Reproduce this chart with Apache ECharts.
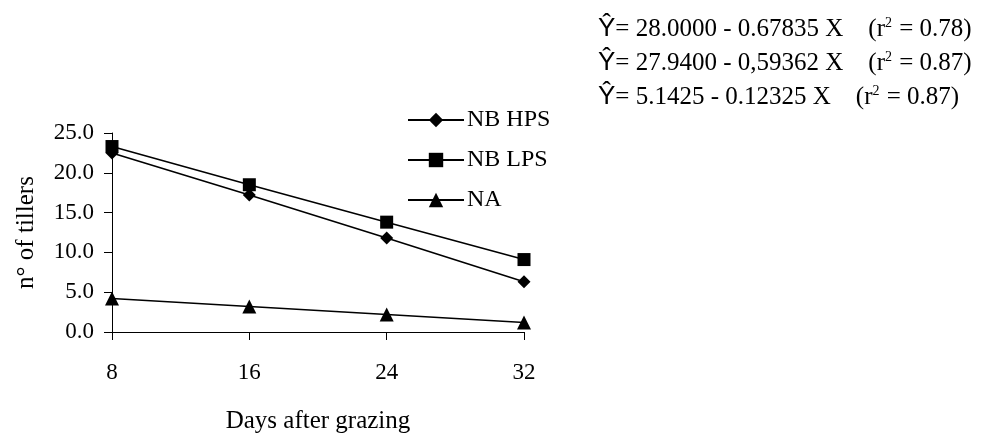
<!DOCTYPE html>
<html>
<head>
<meta charset="utf-8">
<script src="https://cdn.jsdelivr.net/npm/echarts@6/dist/echarts.min.js"></script>
<style>html,body{margin:0;padding:0;background:#fff}#c{width:1004px;height:437px}</style>
</head>
<body>
<div id="c"></div>
<script>
const days = [8, 16, 24, 32];
const nbHPS = [22.5, 17.2, 11.8, 6.3];
const nbLPS = [23.3, 18.5, 13.8, 9.1];
const na = [4.2, 3.2, 2.2, 1.2];
const seriesNames = ['NB HPS', 'NB LPS', 'NA'];
const equations = [
  ['28.0000 - 0.67835 X', '0.78'],
  ['27.9400 - 0,59362 X', '0.87'],
  ['5.1425 - 0.12325 X', '0.87']
];

const font = '"Liberation Serif", "Times New Roman", serif';
const sans = '"Liberation Sans", Arial, sans-serif';
const chart = echarts.init(document.getElementById('c'));

function pts(vals){ return days.map((d,i)=>[d, vals[i]]); }

const symbols = ['diamond', 'rect', 'triangle'];
const sizes = [13, 13, 14];
const dataSets = [nbHPS, nbLPS, na];

chart.setOption({
  backgroundColor: '#fff',
  animation: false,
  textStyle: { fontFamily: font, color: '#000' },
  grid: { left: 112, top: 133, right: 480, bottom: 105 },
  legend: {
    orient: 'vertical',
    left: 407, top: 108, padding: 0,
    itemWidth: 56, itemHeight: 18, itemGap: 16,
    textStyle: { fontFamily: font, fontSize: 24, color: '#000', padding: [0,0,0,-2] },
    data: seriesNames
  },
  xAxis: {
    type: 'value', min: 8, max: 32, interval: 8,
    name: 'Days after grazing', nameLocation: 'middle', nameGap: 77,
    nameTextStyle: { fontFamily: font, fontSize: 25, color: '#000' },
    axisLine: { lineStyle: { color: '#000', width: 1 } },
    axisTick: { show: true, length: 8, lineStyle: { color: '#000' } },
    axisLabel: { fontFamily: font, fontSize: 23, color: '#000', margin: 29 },
    splitLine: { show: false }
  },
  yAxis: {
    type: 'value', min: 0, max: 25, interval: 5,
    name: 'n° of tillers', nameLocation: 'middle', nameGap: 73, nameRotate: 90,
    nameTextStyle: { fontFamily: font, fontSize: 25, color: '#000' },
    axisLine: { show: true, lineStyle: { color: '#000', width: 1 } },
    axisTick: { show: true, length: 8, lineStyle: { color: '#000' } },
    axisLabel: { fontFamily: font, fontSize: 23, color: '#000', margin: 18, formatter: v => v.toFixed(1) },
    splitLine: { show: false }
  },
  series: seriesNames.map((n,i)=>({
    name: n, type: 'line', data: pts(dataSets[i]),
    symbol: symbols[i], symbolSize: sizes[i], showAllSymbol: true,
    lineStyle: { color: '#000', width: 1.6 },
    itemStyle: { color: '#000' },
    clip: false
  })),
  graphic: equations.map((e,i)=>({
    type: 'text', left: 598, top: 16 + i*34,
    style: {
      text: '{y|Ŷ}{t|= ' + e[0] + '    (r}{s|2}{t| = ' + e[1] + ')}',
      rich: {
        y: { fontFamily: sans, fontSize: 26, color: '#000' },
        t: { fontFamily: font, fontSize: 25, color: '#000' },
        s: { fontFamily: font, fontSize: 14, color: '#000', verticalAlign: 'top', padding: [0,1,12,0] }
      }
    }
  }))
});
</script>
</body>
</html>
